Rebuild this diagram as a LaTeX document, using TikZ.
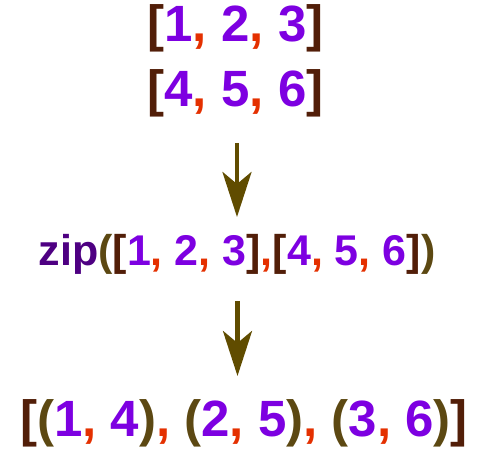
\documentclass[tikz,border=0pt]{standalone}
\usepackage{fontspec}
\setmainfont{Liberation Sans}
\usetikzlibrary{arrows.meta}
\definecolor{brk}{RGB}{82,30,8}
\definecolor{num}{RGB}{125,0,225}
\definecolor{cma}{RGB}{228,48,0}
\definecolor{zipc}{RGB}{78,0,130}
\definecolor{par}{RGB}{92,72,18}
\definecolor{arrc}{RGB}{96,76,0}
\newcommand\myb[1]{\textcolor{brk}{#1}}
\newcommand\myn[1]{\textcolor{num}{#1}}
\newcommand\myc[1]{\textcolor{cma}{#1}}
\newcommand\myp[1]{\textcolor{par}{#1}}
\tikzset{
  txt/.style={inner sep=0pt, anchor=base, font=\fontsize{51}{51}\selectfont\bfseries},
  txtsmall/.style={inner sep=0pt, anchor=base, font=\fontsize{43}{43}\selectfont\bfseries},
  arr/.style={draw=arrc, line width=4.5pt, -{Stealth[length=45pt, width=29pt, inset=12pt]}, fill=arrc}
}
\begin{document}
\begin{tikzpicture}[x=1pt,y=1pt]
\useasboundingbox (0,0) rectangle (479,449);
\node[txt] (l1) at (235.5,407) {\myb{[}\myn{1}\myc{,} \myn{2}\myc{,} \myn{3}\myb{]}};
\node[txt] (l2) at (235.5,342) {\myb{[}\myn{4}\myc{,} \myn{5}\myc{,} \myn{6}\myb{]}};
\node[txtsmall] (zip) at (237,183) {\textcolor{zipc}{zip}\myp{(}\myb{[}\myn{1}\myc{,} \myn{2}\myc{,} \myn{3}\myb{]}\myc{,}\myb{[}\myn{4}\myc{,} \myn{5}\myc{,} \myn{6}\myb{]}\myp{)}};
\node[txt] (res) at (244,12) {\myb{[}\myp{(}\myn{1}\myc{,} \myn{4}\myp{)}\myc{,} \myp{(}\myn{2}\myc{,} \myn{5}\myp{)}\myc{,} \myp{(}\myn{3}\myc{,} \myn{6}\myp{)}\myb{]}};
\coordinate (a1s) at (237,306);
\coordinate (a1e) at (237,232);
\coordinate (a2s) at (237.5,148);
\coordinate (a2e) at (237.5,73);
\draw[arr] (a1s) -- (a1e);
\draw[arr] (a2s) -- (a2e);
\end{tikzpicture}
\end{document}
